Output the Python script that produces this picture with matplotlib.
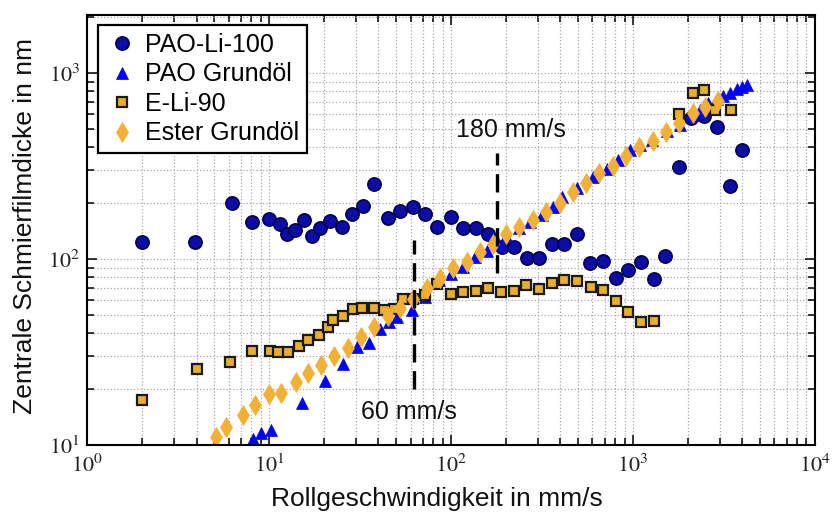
import numpy as np
import matplotlib
matplotlib.use('Agg')
import matplotlib.pyplot as plt
from matplotlib.ticker import LogLocator, FuncFormatter, NullFormatter

plt.rcParams['font.family'] = ['Liberation Sans', 'DejaVu Sans']
plt.rcParams['mathtext.fontset'] = 'stix'

# ---------------- data ----------------
pao_li_x = [2, 3.9, 6.3, 8.1, 10, 11.5, 12.5, 13.9, 15.6, 17.2, 19.2, 21.6, 25.3, 28.6, 32.7,
            37.8, 45.3, 52.5, 61.6, 72.3, 83.5, 99.6, 117, 137, 160, 190, 222, 261, 306, 360,
            419, 494, 580, 682, 807, 942, 1107, 1300, 1505, 1795, 2075, 2455, 2917, 3412, 3955]
pao_li_y = [124, 124, 200, 158, 165, 154, 137, 143, 163, 133, 147, 160, 149, 175, 192,
            253, 167, 181, 191, 174, 149, 168, 146, 146, 136, 116, 116, 101, 101, 120,
            120, 136, 95, 97.5, 79, 87, 96, 78, 104, 312, 570, 587, 514, 247, 385]

pao_base_x = [8.2, 9.1, 10.2, 15.2, 20.2, 25.4, 30.3, 35.6, 40.7, 45.8, 50.7, 60.8, 72, 86, 100,
              116, 135, 157, 181, 202, 236, 272, 315, 363, 406, 491, 605, 717, 830, 963, 1100,
              1267, 1531, 1812, 2144, 2334, 2594, 2884, 3135, 3412, 3715, 3955, 4217]
pao_base_y = [10.7, 11.6, 12.1, 16.9, 22.1, 27.2, 33.5, 35.2, 41.9, 46, 49, 53, 62.7, 77, 83,
              91, 103, 111, 122, 133, 147, 158, 172, 190, 216, 240, 277, 305, 340, 385, 410,
              436, 489, 525, 594, 632, 687, 722, 752, 783, 816, 844, 861]

eli_x = [2, 4.04, 6.08, 8.1, 10.1, 11.2, 12.8, 14.7, 16.4, 18.8, 21.1, 22.4, 25.4, 29, 32.6,
         37.9, 42.7, 48.6, 54.7, 61.6, 72, 83.5, 99.6, 117, 138, 160, 188, 222, 258, 306,
         360, 419, 494, 586, 682, 807, 942, 1102, 1300, 1795, 2145, 2455, 2845, 3453]
eli_y = [17.5, 25.6, 28, 32, 32, 31.5, 31.5, 34, 36.7, 39.2, 43.3, 47, 49.4, 53.7, 54.7,
         54.5, 53.4, 53.7, 60.7, 61, 64, 73.5, 64.5, 66.7, 67.3, 69.5, 66.7, 67.3, 72.8, 69,
         74, 77.4, 76.4, 71, 68, 59.7, 51.6, 45.7, 46.3, 602, 783, 807, 632, 630]

ester_x = [5.1, 5.8, 7.2, 8.4, 10, 11.6, 14, 16.3, 19.4, 22.8, 27.1, 32, 37.6, 44.9, 52.5,
           62, 73.5, 87, 103, 123, 144, 171, 200, 237, 281, 333, 397, 466, 552, 653, 773,
           915, 1083, 1283, 1518, 1795, 2128, 2488, 2943]
ester_y = [11.1, 12.5, 14.4, 16.3, 18.7, 19.1, 21.9, 24.3, 26.9, 30.2, 33.3, 38.2, 43.3, 49.4, 54.3,
           61, 69.5, 78.7, 89, 96.6, 109, 121, 136, 149, 162, 180, 199, 230, 255, 289, 316,
           358, 399, 433, 483, 537, 607, 659, 707]

labels = ['PAO-Li-100', 'PAO Grundöl', 'E-Li-90', 'Ester Grundöl']

marker_lines = [(62.5, 20, 126), (180, 84, 372)]
marker_texts = [(59, 15, '60 mm/s'), (215, 495, '180 mm/s')]

# ---------------- figure ----------------
fig = plt.figure(figsize=(8.34, 5.21), dpi=100)
ax = fig.add_axes([0.1043, 0.146, 0.8727, 0.825])
ax.set_xscale('log')
ax.set_yscale('log')
ax.set_xlim(1, 1e4)
ax.set_ylim(10, 2050)

ax.grid(True, which='both', linestyle=':', color='#a8a8a8', linewidth=0.9)
ax.set_axisbelow(True)

ax.plot(pao_li_x, pao_li_y, linestyle='none', marker='o', ms=9.5,
        mfc='#0c0ca6', mec='#00004d', mew=1.2, label=labels[0])
ax.plot(pao_base_x, pao_base_y, linestyle='none', marker='^', ms=9,
        mfc='#0000ff', mec='#0000ff', mew=0.5, label=labels[1])
ax.plot(eli_x, eli_y, linestyle='none', marker='s', ms=7.5,
        mfc='#e8ae2c', mec='#1a1a1a', mew=1.6, label=labels[2])
ax.plot(ester_x, ester_y, linestyle='none', marker='d', ms=10,
        mfc='#f2b035', mec='#f2b035', mew=0.5, label=labels[3])

for xv, y0, y1 in marker_lines:
    ax.plot([xv, xv], [y0, y1], color='black', lw=2.4, linestyle=(0, (5.5, 2.6)))
for xv, yv, t in marker_texts:
    ax.text(xv, yv, t, ha='center', va='center', fontsize=18, color='#111111')

# axes styling
for s in ax.spines.values():
    s.set_linewidth(1.5)
    s.set_color('black')

fmt = FuncFormatter(lambda v, p: r'$10^{%d}$' % int(round(np.log10(v))))
ax.xaxis.set_major_locator(LogLocator(base=10, numticks=10))
ax.yaxis.set_major_locator(LogLocator(base=10, numticks=10))
ax.xaxis.set_minor_locator(LogLocator(base=10, subs=np.arange(2, 10), numticks=20))
ax.yaxis.set_minor_locator(LogLocator(base=10, subs=np.arange(2, 10), numticks=20))
ax.xaxis.set_major_formatter(fmt)
ax.yaxis.set_major_formatter(fmt)
ax.xaxis.set_minor_formatter(NullFormatter())
ax.yaxis.set_minor_formatter(NullFormatter())
ax.tick_params(which='both', direction='in', top=True, right=True, width=1.1, colors='black',
               labelcolor='#222222', labelsize=16)
ax.tick_params(which='major', length=7)
ax.tick_params(which='minor', length=5)
ax.tick_params(axis='x', pad=7)
ax.tick_params(axis='y', pad=5)

ax.set_xlabel('Rollgeschwindigkeit in mm/s', fontsize=19, color='#111111')
ax.set_ylabel('Zentrale Schmierfilmdicke in nm', fontsize=19, color='#111111')
ax.xaxis.set_label_coords(0.481, -0.098)
ax.yaxis.set_label_coords(-0.068, 0.51)

leg = ax.legend(loc='upper left', bbox_to_anchor=(0.008, 0.988), fancybox=False,
                edgecolor='black', framealpha=1, fontsize=18, handletextpad=0.3,
                borderpad=0.3, labelspacing=0.22, handlelength=1.3, borderaxespad=0.2)
leg.get_frame().set_linewidth(1.6)

fig.savefig('out.png', dpi=100)
